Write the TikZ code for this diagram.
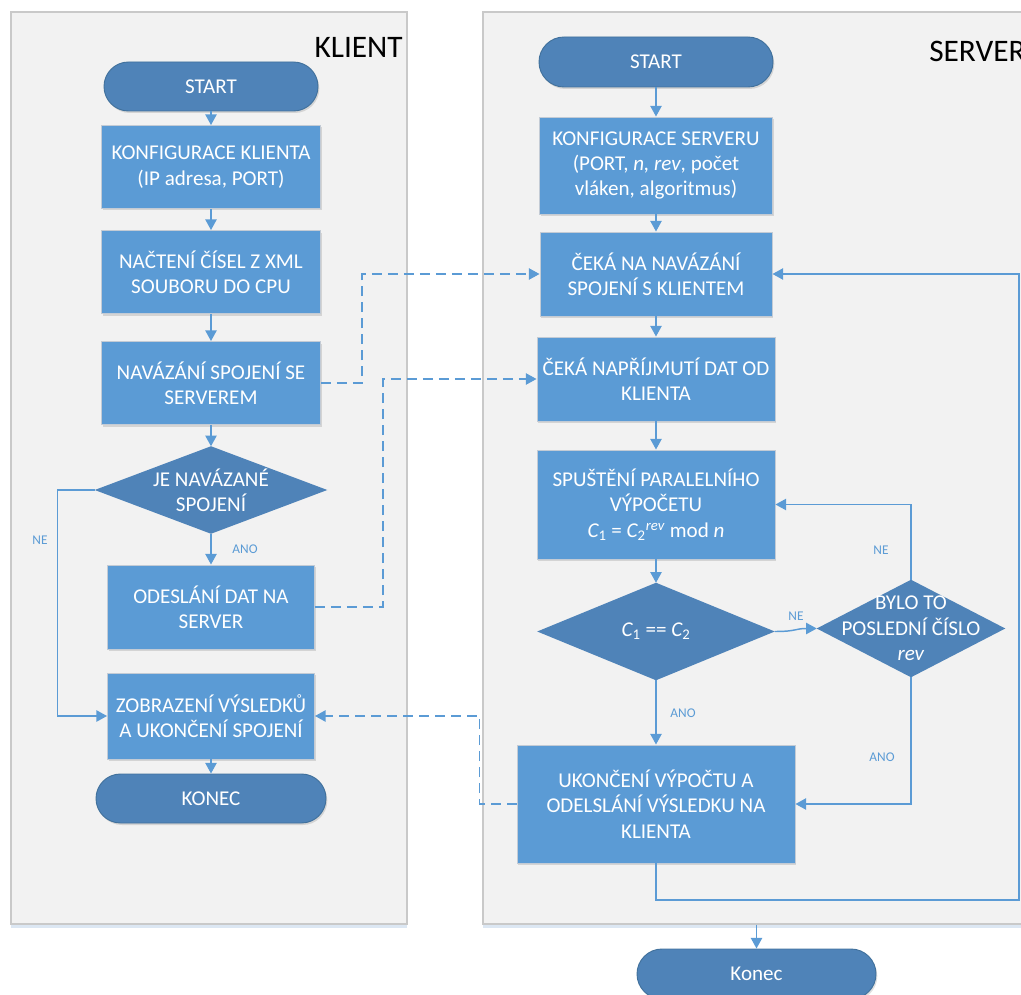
\documentclass[tikz,border=0pt]{standalone}
\usepackage{fontspec}
\setmainfont{Carlito}
\usetikzlibrary{arrows.meta,shadows,calc}

\definecolor{lanefill}{HTML}{F2F2F2}
\definecolor{laneedge}{HTML}{C9C9C9}
\definecolor{boxblue}{HTML}{5B9BD5}
\definecolor{boxedge}{HTML}{C3CBD5}
\definecolor{darkblue}{HTML}{4F83B8}
\definecolor{termedge}{HTML}{41719C}
\definecolor{linkblue}{HTML}{5B9BD5}
\definecolor{laneshadow}{HTML}{DCE7F3}

\def\pxu{0.75pt}

\tikzset{
  lanebox/.style 2 args={rectangle, fill=lanefill, draw=laneedge, line width=0.8pt,
    minimum width=#1*\pxu, minimum height=#2*\pxu, inner sep=0pt,
    drop shadow={shadow xshift=0pt, shadow yshift=-3pt, fill=laneshadow, opacity=1}},
  lanetitle/.style={font=\fontsize{23.5}{27}\selectfont, text=black, inner sep=0pt},
  process/.style 2 args={rectangle, fill=boxblue, draw=boxedge, line width=0.7pt,
    minimum width=#1*\pxu, minimum height=#2*\pxu, inner sep=0pt, align=center,
    text=white, font=\fontsize{15.8}{19}\selectfont,
    drop shadow={shadow xshift=1pt, shadow yshift=-1.5pt, fill=black, opacity=0.12}},
  terminal/.style 2 args={rectangle, rounded corners=#2*0.375pt, fill=darkblue, draw=termedge,
    line width=0.7pt, minimum width=#1*\pxu, minimum height=#2*\pxu, inner sep=0pt,
    text=white, font=\fontsize{15.8}{19}\selectfont,
    drop shadow={shadow xshift=1pt, shadow yshift=-1.5pt, fill=black, opacity=0.12}},
  decision/.style 2 args={rectangle, draw=none, minimum width=#1*\pxu, minimum height=#2*\pxu, inner sep=0pt},
  decfill/.style={fill=darkblue},
  dectext/.style={align=center, text=white, font=\fontsize{15.8}{19}\selectfont, inner sep=0pt},
  conn/.style={draw=linkblue, line width=1.1pt, -{Triangle[length=8pt,width=8.5pt]}},
  dashconn/.style={conn, dash pattern=on 7.5pt off 4.5pt},
  flowlabel/.style={text=linkblue, font=\fontsize{10}{12}\selectfont, inner sep=0pt},
}

\begin{document}
\begin{tikzpicture}[x=0.75pt, y=-0.75pt]
\useasboundingbox (0,0) rectangle (1021,995);

% swimlanes
\node[lanebox={396}{912}] (klane) at (209,468) {};
\node[lanebox={560}{912}] (slane) at (763,468) {};
\node[lanetitle, anchor=east] (ktitle) at (403,47) {KLIENT};
\node[lanetitle, anchor=west] (stitle) at (929,51) {SERVER};

% client column
\node[terminal={214}{49}] (c0) at (211,86.5) {START};
\node[process={219}{83}] (c1) at (211,167) {KONFIGURACE KLIENTA\\(IP adresa, PORT)};
\node[process={219}{83}] (c2) at (211,272) {NAČTENÍ ČÍSEL Z XML\\SOUBORU DO CPU};
\node[process={219}{83}] (c3) at (211,383) {NAVÁZÁNÍ SPOJENÍ SE\\SERVEREM};
\node[decision={232}{87}] (c4) at (211,490) {};
\fill[decfill] (c4.north) -- (c4.east) -- (c4.south) -- (c4.west) -- cycle;
\node[dectext] (c4t) at (c4) {JE NAVÁZANÉ\\SPOJENÍ};
\node[process={207}{84}] (c5) at (211,607) {ODESLÁNÍ DAT NA\\SERVER};
\node[process={207}{86}] (c6) at (211,716) {ZOBRAZENÍ VÝSLEDKŮ\\A UKONČENÍ SPOJENÍ};
\node[terminal={230}{49}] (c7) at (211,798.5) {KONEC};

% server column
\node[terminal={234}{50}] (s0) at (656,62) {START};
\node[process={233}{97}] (s1) at (656,165.5) {KONFIGURACE SERVERU\\(PORT, \textit{n, rev}, počet\\vláken, algoritmus)};
\node[process={232}{84}] (s2) at (656,274) {ČEKÁ NA NAVÁZÁNÍ\\SPOJENÍ S KLIENTEM};
\node[process={238}{84}] (s3) at (656,379) {ČEKÁ NAPŘÍJMUTÍ DAT OD\\KLIENTA};
\node[process={238}{109}] (s4) at (656,504.5) {SPUŠTĚNÍ PARALELNÍHO\\VÝPOČETU\\{\itshape C}\textsubscript{1} = {\itshape C}\textsubscript{2}\textsuperscript{\itshape rev}\ mod {\itshape n}};
\node[decision={237}{97}] (s5) at (656,631.5) {};
\fill[decfill] (s5.north) -- (s5.east) -- (s5.south) -- (s5.west) -- cycle;
\node[dectext] (s5t) at (s5) {{\itshape C}\textsubscript{1} == {\itshape C}\textsubscript{2}};
\node[decision={188}{97}] (s6) at (911,628.5) {};
\fill[decfill] (s6.north) -- (s6.east) -- (s6.south) -- (s6.west) -- cycle;
\node[dectext] (s6t) at (s6) {BYLO TO\\POSLEDNÍ ČÍSLO\\\textit{rev}};
\node[process={278}{118}] (s7) at (656,804) {UKONČENÍ VÝPOČTU A\\ODELSLÁNÍ VÝSLEDKU NA\\KLIENTA};
\node[terminal={239}{50}] (s8) at (756.5,974) {Konec};

% client flow
\draw[conn] (c0) -- (c1);
\draw[conn] (c1) -- (c2);
\draw[conn] (c2) -- (c3);
\draw[conn] (c3) -- (c4.north);
\draw[conn] (c4.south) -- (c5);
\draw[conn] (c4.west) -- ++(-37,0) |- (c6.west);
\draw[conn] (c6) -- (c7);

% server flow
\draw[conn] (s0) -- (s1);
\draw[conn] (s1) -- (s2);
\draw[conn] (s2) -- (s3);
\draw[conn] (s3) -- (s4);
\draw[conn] (s4) -- (s5.north);
\draw[conn] (s5.south) -- (s7);
\draw[conn] (s5.east) .. controls +(22,0) and +(-22,0) .. (s6.west);
\draw[conn] (s6.north) |- (s4.east);
\draw[conn] (s6.south) |- (s7.east);
\coordinate (loopc) at (1019,900);
\draw[conn] (s7.south) |- (loopc) |- (s2.east);
\draw[conn] (s8.north |- slane.south) -- (s8.north);

% messages between client and server
\draw[dashconn] (c3.east) -- ++(41,0) |- (s2.west);
\draw[dashconn] (c5.east) -- ++(68,0) |- (s3.west);
\draw[dashconn] (s7.west) -- ++(-37,0) |- (c6.east);

% branch labels
\node[flowlabel] (lne1) at (40,540) {NE};
\node[flowlabel] (lano1) at (245,549) {ANO};
\node[flowlabel] (lne2) at (796,616) {NE};
\node[flowlabel] (lne3) at (881,550) {NE};
\node[flowlabel] (lano2) at (683,713) {ANO};
\node[flowlabel] (lano3) at (882,757) {ANO};
\end{tikzpicture}
\end{document}
